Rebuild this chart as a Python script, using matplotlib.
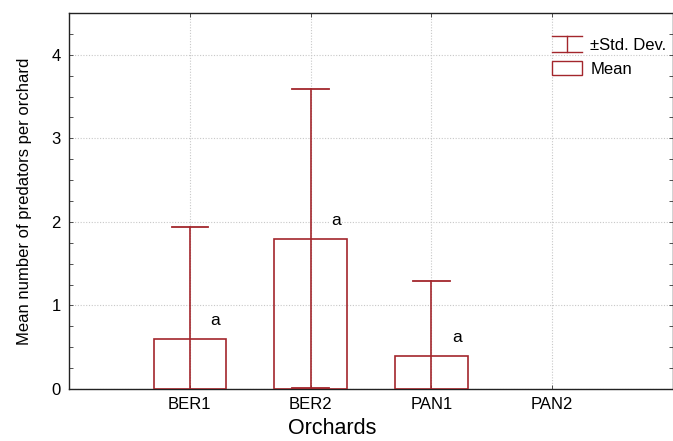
import matplotlib
matplotlib.use("Agg")
import matplotlib.pyplot as plt
from matplotlib.lines import Line2D
from matplotlib.patches import Rectangle
from matplotlib.legend_handler import HandlerBase
import numpy as np

categories = ["BER1", "BER2", "PAN1", "PAN2"]
means = [0.6, 1.8, 0.4, 0.0]
stds = [1.34, 1.79, 0.89, 0.0]
letters = ["a", "a", "a", ""]

plt.rcParams['font.family'] = ['Liberation Sans', 'DejaVu Sans']
red = '#A3262C'

fig = plt.figure(figsize=(6.73, 4.41), dpi=100)
ax = fig.add_axes([69/673, 1 - 389/441, (673 - 69)/673, (389 - 13)/441])

x = np.arange(1, len(categories) + 1)
lws = [1.2 if m > 0 else 0 for m in means]
ax.bar(x, means, width=0.6, facecolor='none', edgecolor=red, linewidth=lws, zorder=3)
for xi, m, s in zip(x, means, stds):
    if s > 0:
        ax.plot([xi, xi], [m - s, m + s], color=red, lw=1.2, zorder=4, clip_on=True)
        ax.plot([xi - 0.15, xi + 0.15], [m + s, m + s], color=red, lw=1.3, zorder=4)
        ax.plot([xi - 0.15, xi + 0.15], [m - s, m - s], color=red, lw=1.3, zorder=4)
for xi, m, s, l in zip(x, means, stds, letters):
    if l:
        ax.text(xi + 0.21, m + 0.22, l, fontsize=12.5, ha='center', va='center', zorder=5,
                bbox=dict(facecolor='white', edgecolor='none', pad=1))

ax.set_xlim(0, 5)
ax.set_ylim(0, 4.5)
ax.set_xticks(x)
ax.set_xticklabels(categories, fontsize=12)
ax.set_yticks([0, 1, 2, 3, 4])
ax.set_yticklabels(['0', '1', '2', '3', '4'], fontsize=12)
ax.set_yticks(np.arange(0, 4.51, 0.25), minor=True)
ax.tick_params(axis='both', which='both', direction='in', top=True, right=True,
               length=3, width=0.6, color='#333333', pad=6)
ax.grid(True, which='major', linestyle=(0, (1, 1.5)), color='#C8C8C8', lw=0.8, zorder=0)
for sp in ax.spines.values():
    sp.set_color('#222222')
    sp.set_linewidth(1.0)

ax.set_ylabel('Mean number of predators per orchard', fontsize=12, labelpad=14)
fig.text(0.494, 1 - 439/441, 'Orchards', fontsize=15.5, ha='center', va='bottom')


class ErrHandler(HandlerBase):
    def create_artists(self, legend, orig_handle, xdescent, ydescent, width, height, fontsize, trans):
        cx = width / 2 - xdescent
        top = height * 1.2
        bot = -height * 0.2
        l1 = Line2D([cx, cx], [bot, top], color=red, lw=1.0, transform=trans)
        l2 = Line2D([0 - xdescent, width - xdescent], [top, top], color=red, lw=1.0, transform=trans)
        l3 = Line2D([0 - xdescent, width - xdescent], [bot, bot], color=red, lw=1.0, transform=trans)
        return [l1, l2, l3]


class RectHandler(HandlerBase):
    def create_artists(self, legend, orig_handle, xdescent, ydescent, width, height, fontsize, trans):
        r = Rectangle((-xdescent, -height * 0.1), width, height * 1.2, facecolor='white',
                      edgecolor=red, lw=1.0, transform=trans)
        return [r]


h1 = Line2D([], [])
h2 = Rectangle((0, 0), 1, 1)
leg = ax.legend([h1, h2], ['±Std. Dev.', 'Mean'],
                handler_map={h1: ErrHandler(), h2: RectHandler()},
                loc='upper left', bbox_to_anchor=((552 - 69) / 604, 1 - (38 - 13) / 376),
                frameon=False, fontsize=12, handlelength=1.8, handletextpad=0.5,
                labelspacing=0.55, borderaxespad=0, borderpad=0)

fig.savefig('out.png', dpi=100)
